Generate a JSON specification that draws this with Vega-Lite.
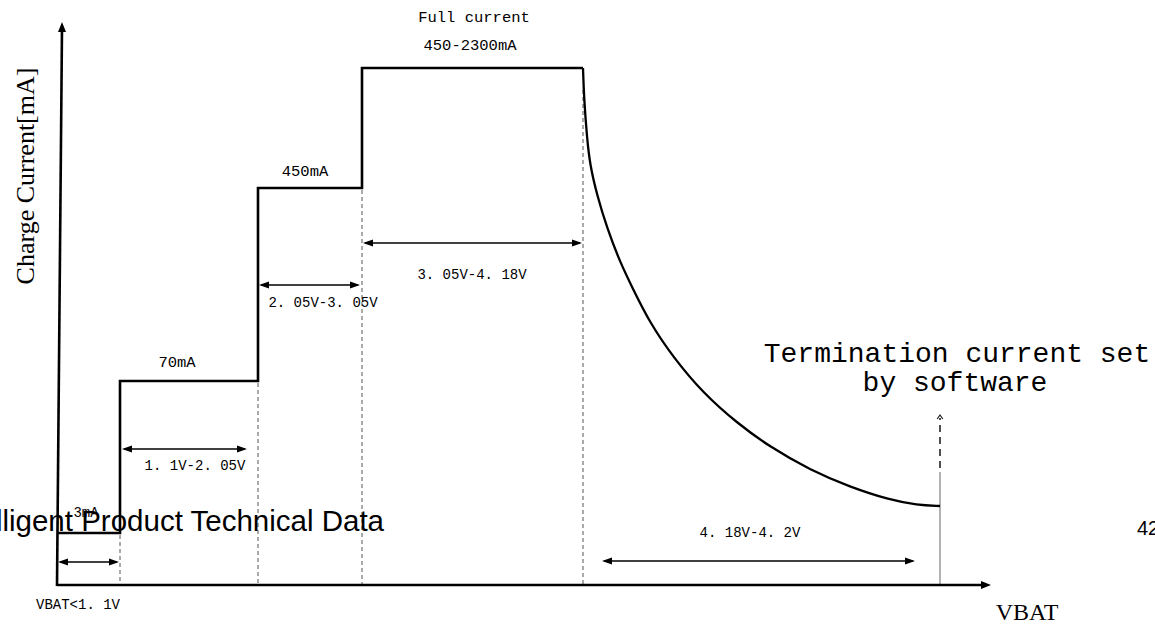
{
  "$schema": "https://vega.github.io/schema/vega-lite/v6.json",
  "width": 1155,
  "height": 625,
  "padding": 0,
  "autosize": {"type": "fit", "contains": "padding"},
  "background": "white",
  "config": {"view": {"stroke": null}},
  "datasets": {
    "segments": [
      {"id": "yaxis", "kind": "thick", "o": 0, "x": 57, "y": 586},
      {"id": "yaxis", "kind": "thick", "o": 1, "x": 62, "y": 28},
      {"id": "xaxis", "kind": "thick", "o": 0, "x": 57, "y": 585},
      {"id": "xaxis", "kind": "thick", "o": 1, "x": 982, "y": 585},
      {"id": "steps", "kind": "thick", "o": 0, "x": 57, "y": 533},
      {"id": "steps", "kind": "thick", "o": 1, "x": 120, "y": 533},
      {"id": "steps", "kind": "thick", "o": 2, "x": 120, "y": 381},
      {"id": "steps", "kind": "thick", "o": 3, "x": 258, "y": 381},
      {"id": "steps", "kind": "thick", "o": 4, "x": 258, "y": 188},
      {"id": "steps", "kind": "thick", "o": 5, "x": 362, "y": 188},
      {"id": "steps", "kind": "thick", "o": 6, "x": 362, "y": 68},
      {"id": "steps", "kind": "thick", "o": 7, "x": 583, "y": 68},
      {"id": "d1", "kind": "dash", "o": 0, "x": 120, "y": 535},
      {"id": "d1", "kind": "dash", "o": 1, "x": 120, "y": 584},
      {"id": "d2", "kind": "dash", "o": 0, "x": 258, "y": 383},
      {"id": "d2", "kind": "dash", "o": 1, "x": 258, "y": 584},
      {"id": "d3", "kind": "dash", "o": 0, "x": 362, "y": 190},
      {"id": "d3", "kind": "dash", "o": 1, "x": 362, "y": 584},
      {"id": "d4", "kind": "dash", "o": 0, "x": 583, "y": 90},
      {"id": "d4", "kind": "dash", "o": 1, "x": 583, "y": 584},
      {"id": "a1", "kind": "arrow", "o": 0, "x": 60, "y": 562},
      {"id": "a1", "kind": "arrow", "o": 1, "x": 117, "y": 562},
      {"id": "a2", "kind": "arrow", "o": 0, "x": 124, "y": 449},
      {"id": "a2", "kind": "arrow", "o": 1, "x": 245, "y": 449},
      {"id": "a3", "kind": "arrow", "o": 0, "x": 261, "y": 285},
      {"id": "a3", "kind": "arrow", "o": 1, "x": 358, "y": 285},
      {"id": "a4", "kind": "arrow", "o": 0, "x": 365, "y": 243},
      {"id": "a4", "kind": "arrow", "o": 1, "x": 580, "y": 243},
      {"id": "a5", "kind": "arrow", "o": 0, "x": 604, "y": 561},
      {"id": "a5", "kind": "arrow", "o": 1, "x": 913, "y": 561},
      {"id": "t1", "kind": "term", "o": 0, "x": 940, "y": 585},
      {"id": "t1", "kind": "term", "o": 1, "x": 940, "y": 472},
      {"id": "t2", "kind": "termdash", "o": 0, "x": 940, "y": 468},
      {"id": "t2", "kind": "termdash", "o": 1, "x": 940, "y": 418}
    ],
    "curve": [
      {"x": 583, "y": 68},
      {"x": 584, "y": 98},
      {"x": 587, "y": 138},
      {"x": 590, "y": 165},
      {"x": 597, "y": 195},
      {"x": 607, "y": 228},
      {"x": 620, "y": 262},
      {"x": 633, "y": 289},
      {"x": 650, "y": 323},
      {"x": 673, "y": 357},
      {"x": 703, "y": 393},
      {"x": 737, "y": 423},
      {"x": 770, "y": 447},
      {"x": 810, "y": 470},
      {"x": 850, "y": 487},
      {"x": 890, "y": 500},
      {"x": 917, "y": 505},
      {"x": 940, "y": 506}
    ],
    "heads": [
      {"kind": "left", "x": 58, "y": 562},
      {"kind": "left", "x": 122, "y": 449},
      {"kind": "left", "x": 259, "y": 285},
      {"kind": "left", "x": 363, "y": 243},
      {"kind": "left", "x": 602, "y": 561},
      {"kind": "right", "x": 119, "y": 562},
      {"kind": "right", "x": 247, "y": 449},
      {"kind": "right", "x": 360, "y": 285},
      {"kind": "right", "x": 582, "y": 243},
      {"kind": "right", "x": 915, "y": 561},
      {"kind": "axisup", "x": 62, "y": 22},
      {"kind": "axisright", "x": 991, "y": 585},
      {"kind": "open", "x": 940, "y": 415}
    ],
    "labels": [
      {"style": "mono15", "label": "Full current", "x": 474, "y": 17},
      {"style": "mono15", "label": "450-2300mA", "x": 470, "y": 45},
      {"style": "mono15", "label": "450mA", "x": 305, "y": 171},
      {"style": "mono15", "label": "70mA", "x": 177, "y": 362},
      {"style": "mono", "label": "3mA", "x": 86, "y": 513},
      {"style": "mono", "label": "3. 05V-4. 18V", "x": 472, "y": 275},
      {"style": "mono", "label": "2. 05V-3. 05V", "x": 323, "y": 303},
      {"style": "mono", "label": "1. 1V-2. 05V", "x": 195, "y": 466},
      {"style": "mono", "label": "4. 18V-4. 2V", "x": 750, "y": 533},
      {"style": "mono", "label": "VBAT<1. 1V", "x": 78, "y": 605},
      {"style": "big", "label": "Termination current set", "x": 957, "y": 354},
      {"style": "big", "label": "by software", "x": 955, "y": 383}
    ]
  },
  "encoding": {
    "x": {"field": "x", "type": "quantitative", "scale": {"domain": [0, 1155], "nice": false, "zero": false}, "axis": null},
    "y": {"field": "y", "type": "quantitative", "scale": {"domain": [0, 625], "nice": false, "zero": false, "reverse": true}, "axis": null}
  },
  "layer": [
    {
      "data": {"name": "segments"},
      "transform": [{"filter": "datum.kind === 'dash'"}],
      "mark": {"type": "line", "color": "#555555", "strokeWidth": 1, "strokeDash": [4, 3]},
      "encoding": {"detail": {"field": "id"}, "order": {"field": "o"}}
    },
    {
      "data": {"name": "segments"},
      "transform": [{"filter": "datum.kind === 'term'"}],
      "mark": {"type": "line", "color": "#666666", "strokeWidth": 1},
      "encoding": {"detail": {"field": "id"}, "order": {"field": "o"}}
    },
    {
      "data": {"name": "segments"},
      "transform": [{"filter": "datum.kind === 'termdash'"}],
      "mark": {"type": "line", "color": "#222222", "strokeWidth": 1.6, "strokeDash": [7, 5]},
      "encoding": {"detail": {"field": "id"}, "order": {"field": "o"}}
    },
    {
      "data": {"name": "segments"},
      "transform": [{"filter": "datum.kind === 'arrow'"}],
      "mark": {"type": "line", "color": "black", "strokeWidth": 1.6},
      "encoding": {"detail": {"field": "id"}, "order": {"field": "o"}}
    },
    {
      "data": {"name": "segments"},
      "transform": [{"filter": "datum.kind === 'thick'"}],
      "mark": {"type": "line", "color": "black", "strokeWidth": 2.6, "strokeJoin": "miter"},
      "encoding": {"detail": {"field": "id"}, "order": {"field": "o"}}
    },
    {
      "data": {"name": "curve"},
      "mark": {"type": "line", "color": "black", "strokeWidth": 2.3, "interpolate": "basis"},
      "encoding": {}
    },
    {
      "data": {"name": "heads"},
      "transform": [{"filter": "datum.kind === 'left'"}],
      "mark": {"type": "point", "shape": "M0,0L2,-0.7L2,0.7Z", "filled": true, "color": "black", "opacity": 1, "size": 100, "strokeWidth": 0}
    },
    {
      "data": {"name": "heads"},
      "transform": [{"filter": "datum.kind === 'right'"}],
      "mark": {"type": "point", "shape": "M0,0L-2,-0.7L-2,0.7Z", "filled": true, "color": "black", "opacity": 1, "size": 100, "strokeWidth": 0}
    },
    {
      "data": {"name": "heads"},
      "transform": [{"filter": "datum.kind === 'axisup'"}],
      "mark": {"type": "point", "shape": "M0,0L-0.8,2L0.8,2Z", "filled": true, "color": "black", "opacity": 1, "size": 100, "strokeWidth": 0}
    },
    {
      "data": {"name": "heads"},
      "transform": [{"filter": "datum.kind === 'axisright'"}],
      "mark": {"type": "point", "shape": "M0,0L-2,-0.8L-2,0.8Z", "filled": true, "color": "black", "opacity": 1, "size": 100, "strokeWidth": 0}
    },
    {
      "data": {"name": "heads"},
      "transform": [{"filter": "datum.kind === 'open'"}],
      "mark": {"type": "point", "shape": "M-0.7,1L0,0L0.7,1", "filled": false, "color": "#222222", "opacity": 1, "size": 64, "strokeWidth": 1.2}
    },
    {
      "data": {"name": "labels"},
      "transform": [{"filter": "datum.style === 'mono'"}],
      "mark": {"type": "text", "font": "Liberation Mono", "fontSize": 14, "color": "black", "align": "center", "baseline": "middle"},
      "encoding": {"text": {"field": "label"}}
    },
    {
      "data": {"name": "labels"},
      "transform": [{"filter": "datum.style === 'mono15'"}],
      "mark": {"type": "text", "font": "Liberation Mono", "fontSize": 15.5, "color": "black", "align": "center", "baseline": "middle"},
      "encoding": {"text": {"field": "label"}}
    },
    {
      "data": {"name": "labels"},
      "transform": [{"filter": "datum.style === 'big'"}],
      "mark": {"type": "text", "font": "Liberation Mono", "fontSize": 28, "color": "black", "align": "center", "baseline": "middle"},
      "encoding": {"text": {"field": "label"}}
    },
    {
      "data": {"values": [{"label": "Charge Current[mA]", "x": 26, "y": 176}]},
      "mark": {"type": "text", "font": "Liberation Serif", "fontSize": 26, "color": "black", "align": "center", "baseline": "middle", "angle": 270},
      "encoding": {"text": {"field": "label"}}
    },
    {
      "data": {"values": [{"label": "VBAT", "x": 1027, "y": 613}]},
      "mark": {"type": "text", "font": "Liberation Serif", "fontSize": 24, "color": "black", "align": "center", "baseline": "middle"},
      "encoding": {"text": {"field": "label"}}
    },
    {
      "data": {"values": [{"label": "Intelligent Product Technical Data", "x": 384, "y": 531}]},
      "mark": {"type": "text", "font": "Liberation Sans", "fontSize": 29.5, "color": "black", "align": "right", "baseline": "alphabetic", "clip": true},
      "encoding": {"text": {"field": "label"}}
    },
    {
      "data": {"values": [{"label": "42", "x": 1137, "y": 535}]},
      "mark": {"type": "text", "font": "Liberation Sans", "fontSize": 20, "color": "black", "align": "left", "baseline": "alphabetic", "clip": true},
      "encoding": {"text": {"field": "label"}}
    }
  ]
}
